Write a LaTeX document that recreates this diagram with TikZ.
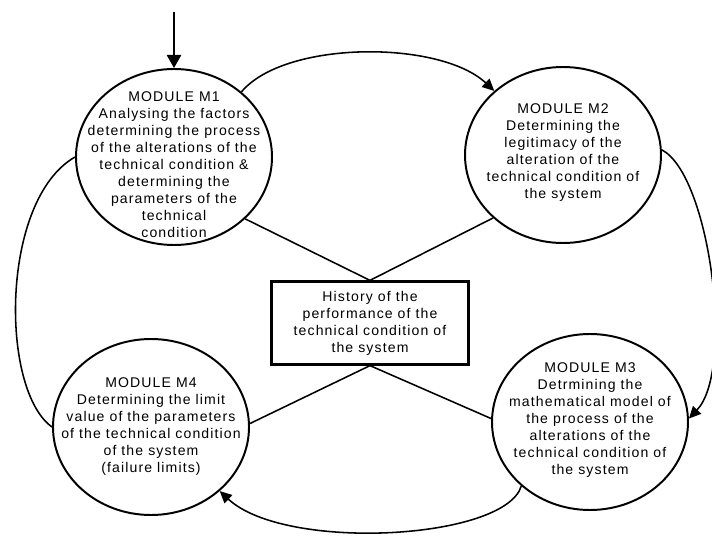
\documentclass[tikz,border=0pt]{standalone}
\usepackage{fontspec}
\setmainfont{Liberation Sans}[LetterSpace=8]
\usepackage{tikz}
\usetikzlibrary{shapes,arrows,positioning,calc,arrows.meta}

\begin{document}
\begin{tikzpicture}[module/.style={draw, ellipse, line width=1.4pt, minimum width=4.9cm, minimum height=4.4cm, inner sep=0pt},
    modtext/.style={align=center, font=\fontsize{10}{12.1}\selectfont},
    link/.style={line width=1.1pt}, flow/.style={line width=1.1pt, -{Triangle[length=0.3cm,width=0.28cm]}}]
    \useasboundingbox (0,0) rectangle (17.8,-13.425);
    \node[module] (m1) at (4.35,-3.925) {}; \node[module] (m2) at (14.075,-3.875) {};
    \node[module] (m3) at (14.75,-10.55) {}; \node[module] (m4) at (3.775,-10.675) {};
    \node[modtext] (m1txt) at ([yshift=-0.19cm]m1.center) {MODULE M1\\Analysing the factors\\determining the process\\of the alterations of the\\technical condition \&\\determining the\\parameters of the\\technical\\condition};
    \node[modtext] (m2txt) at ([yshift=0.06cm]m2.center) {MODULE M2\\Determining the\\legitimacy of the\\alteration of the\\technical condition of\\the system};
    \node[modtext] (m3txt) at ([yshift=0.05cm]m3.center) {MODULE M3\\Detrmining the\\mathematical model of\\the process of the\\alterations of the\\technical condition of\\the system};
    \node[modtext] (m4txt) at (m4.center) {MODULE M4\\Determining the limit\\value of the parameters\\of the technical condition\\of the system\\(failure limits)};
    \node[draw, line width=1.6pt, minimum width=4.925cm, minimum height=2.075cm, modtext] (hist) at (9.25,-8.075) {History of the\\performance of the\\technical condition of\\the system};
    \coordinate (entry) at (4.35,-0.3); \draw[flow, line width=1.4pt, -{Triangle[length=0.33cm,width=0.36cm]}] (entry) -- (m1);
    \draw[flow] (m1.44) .. controls (7.125,-1.0) and (11.0,-1.0) .. (m2.137);
    \draw[flow] (m2.3) .. controls (17.75,-4.375) and (18.375,-9.25) .. (m3.2);
    \draw[flow] (m3.-137) .. controls (12.625,-13.5) and (7.125,-13.8) .. (m4.-43);
    \draw[link] (m4.west) .. controls (0,-9.75) and (0,-5.0) .. (m1.west);
    \draw[link] (m1.-41) -- (hist.north); \draw[link] (m2.-138) -- (hist.north);
    \draw[link] (m4.2) -- (hist.south); \draw[link] (m3.178) -- (hist.south);
\end{tikzpicture}
\end{document}
